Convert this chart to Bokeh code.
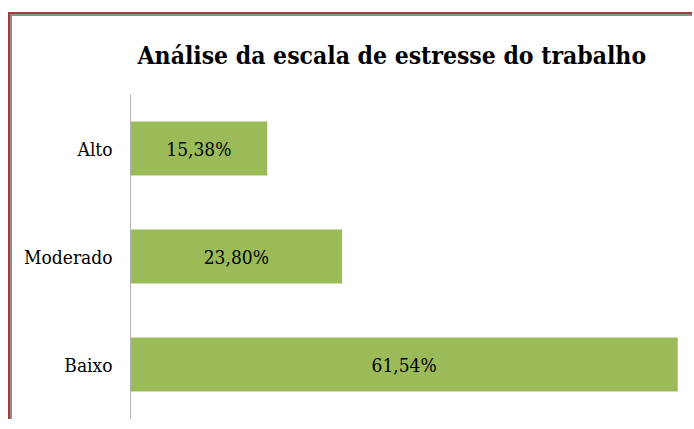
from bokeh.plotting import figure
from bokeh.models import ColumnDataSource, FactorRange, Range1d
from bokeh.core.properties import value
from bokeh.embed import file_html
from bokeh.resources import INLINE

categories = ["Baixo", "Moderado", "Alto"]
percentages = [61.54, 23.80, 15.38]
value_labels = ["61,54%", "23,80%", "15,38%"]

SERIF = "DejaVu Serif Condensed"

src = ColumnDataSource(dict(
    cat=categories,
    val=percentages,
    mid=[v / 2 for v in percentages],
    lab=value_labels,
))

p = figure(
    y_range=FactorRange(factors=categories, range_padding=0),
    x_range=Range1d(0, 62.3),
    width=684, height=407,
    output_backend="svg", toolbar_location=None,
    min_border_left=120, min_border_right=10,
    min_border_top=80, min_border_bottom=3,
)

p.title.text = "Análise da escala de estresse do trabalho"
p.title.text_font = SERIF
p.title.text_font_size = "24.5px"
p.title.text_font_style = "bold"
p.title.text_color = "#000000"
p.title.align = "left"
p.title.offset = 7
p.title.standoff = 49

p.hbar(y="cat", left=0, right="val", height=0.5, source=src,
       fill_color="#9bbb59", line_color=None)
p.text(x="mid", y="cat", text="lab", source=src,
       text_font=value(SERIF), text_font_size="19px",
       text_color="#000000", text_align="center", text_baseline="middle")

p.xaxis.visible = False
p.xgrid.grid_line_color = None
p.ygrid.grid_line_color = None
p.outline_line_color = None
p.yaxis.axis_line_color = "#b3b3b3"
p.yaxis.major_tick_line_color = None
p.yaxis.minor_tick_line_color = None
p.yaxis.major_tick_out = 0
p.yaxis.major_tick_in = 0
p.yaxis.major_label_standoff = 18
p.yaxis.major_label_text_font = SERIF
p.yaxis.major_label_text_font_size = "19px"
p.yaxis.major_label_text_color = "#000000"

p.border_fill_color = None
p.background_fill_color = None
p.styles = {
    "margin-top": "12px",
    "margin-left": "8px",
    "border-top": "2px solid #a33b3b",
    "border-left": "2px solid #a33b3b",
    "background": "linear-gradient(#8f8f8f, #8f8f8f) top left / 100% 2px no-repeat, "
                  "linear-gradient(#8f8f8f, #8f8f8f) top left / 2px 100% no-repeat, #ffffff",
}

open("out.html", "w").write(file_html(p, INLINE))
